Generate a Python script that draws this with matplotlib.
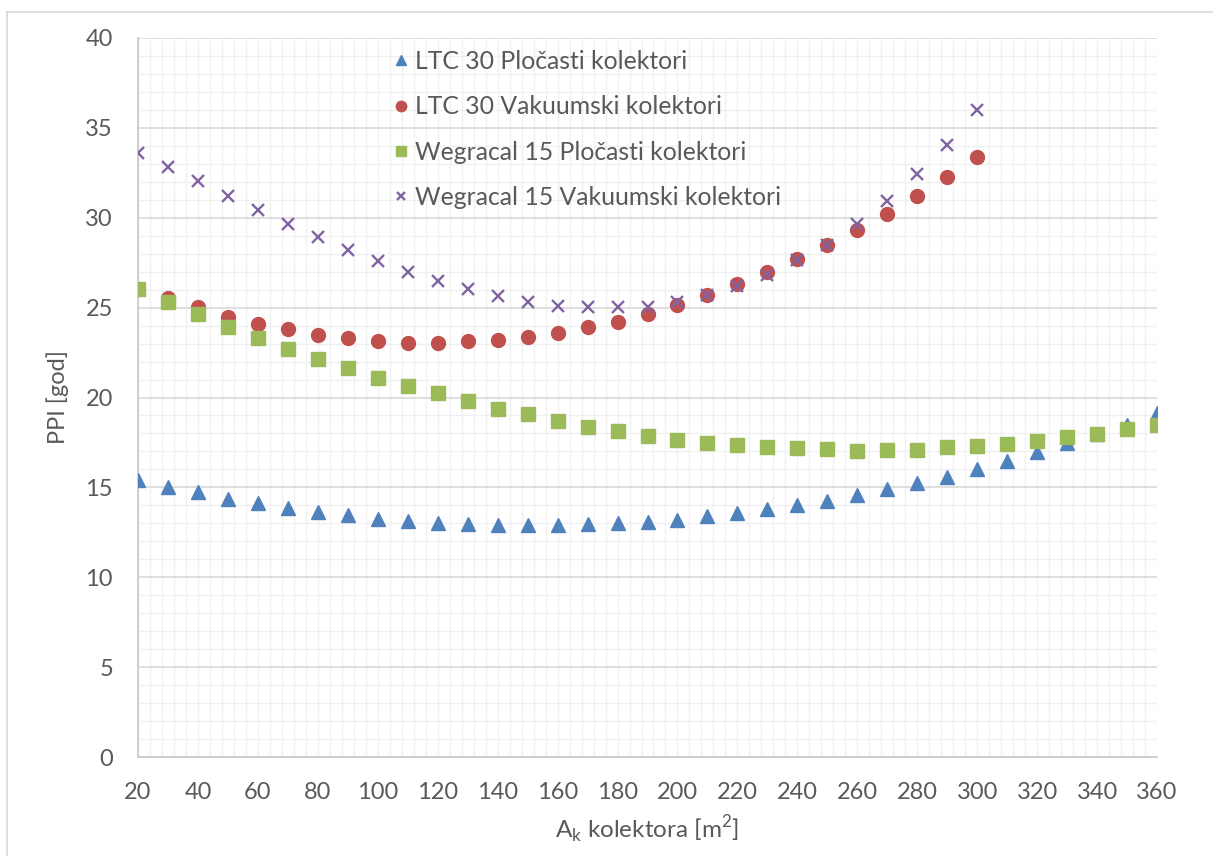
import matplotlib
matplotlib.use("Agg")
import numpy as np
import matplotlib.pyplot as plt
from matplotlib.lines import Line2D
from matplotlib.ticker import MultipleLocator

# ── data ───────────────────────────────────────────────────────
area_long = list(range(20, 361, 10))     # 20 … 360
area_short = list(range(20, 301, 10))    # 20 … 300

ltc_plocasti = [15.41, 15.03, 14.72, 14.37, 14.11, 13.87, 13.61, 13.44, 13.26, 13.13,
                13.03, 12.96, 12.89, 12.89, 12.89, 12.96, 13.00, 13.08, 13.20, 13.40,
                13.59, 13.77, 14.00, 14.26, 14.57, 14.89, 15.26, 15.60, 16.05, 16.46,
                16.98, 17.46, 17.95, 18.45, 19.13]
ltc_vakuumski = [26.05, 25.51, 25.01, 24.49, 24.10, 23.79, 23.47, 23.29, 23.17, 23.04,
                 23.04, 23.12, 23.18, 23.35, 23.60, 23.90, 24.21, 24.64, 25.16, 25.70,
                 26.34, 26.99, 27.73, 28.46, 29.31, 30.23, 31.21, 32.27, 33.39]
weg_plocasti = [26.01, 25.29, 24.62, 23.93, 23.30, 22.69, 22.14, 21.65, 21.10, 20.65,
                20.23, 19.80, 19.35, 19.06, 18.69, 18.37, 18.13, 17.88, 17.66, 17.48,
                17.33, 17.22, 17.17, 17.11, 17.04, 17.09, 17.09, 17.22, 17.30, 17.43,
                17.60, 17.78, 17.96, 18.22, 18.45]
weg_vakuumski = [33.63, 32.83, 32.04, 31.22, 30.42, 29.68, 28.94, 28.20, 27.60, 26.97,
                 26.49, 26.01, 25.62, 25.32, 25.08, 25.01, 25.01, 25.04, 25.32, 25.73,
                 26.21, 26.81, 27.64, 28.51, 29.68, 30.92, 32.42, 34.07, 35.98]

labels = ["LTC 30 Pločasti kolektori", "LTC 30 Vakuumski kolektori",
          "Wegracal 15 Pločasti kolektori", "Wegracal 15 Vakuumski kolektori"]

# ── style ──────────────────────────────────────────────────────
plt.rcParams["font.family"] = ["Lato", "DejaVu Sans"]
TXT = "#595959"
BLUE, RED, GREEN, PURPLE = "#4F81BD", "#C0504D", "#9BBB59", "#8064A2"
FS, LEG_FS = 17, 17.8

W, H = 1213, 856
fig = plt.figure(figsize=(W / 100, H / 100), dpi=100)
ax = fig.add_axes([138 / W, (H - 757) / H, (1157 - 138) / W, (757 - 38) / H])

# chart-area border (left and top visible)
fig.add_artist(Line2D([7 / W, 7 / W], [0, (H - 12) / H], color="#d9d9d9", lw=1.2))
fig.add_artist(Line2D([7 / W, 1], [(H - 12) / H, (H - 12) / H], color="#d9d9d9", lw=1.2))

ax.plot(area_long, ltc_plocasti, ls="none", marker="^", ms=10.5, color=BLUE,
        mec=BLUE, label=labels[0], zorder=3)
ax.plot(area_short, ltc_vakuumski, ls="none", marker="o", ms=10, color=RED,
        mec=RED, label=labels[1], zorder=3)
ax.plot(area_long, weg_plocasti, ls="none", marker="s", ms=9.5, color=GREEN,
        mec=GREEN, label=labels[2], zorder=3)
ax.plot(area_short, weg_vakuumski, ls="none", marker="x", ms=8.5, mew=1.7,
        color=PURPLE, label=labels[3], zorder=4)

ax.set_xlim(20, 360)
ax.set_ylim(0, 40)
ax.xaxis.set_major_locator(MultipleLocator(20))
ax.xaxis.set_minor_locator(MultipleLocator(4))
ax.yaxis.set_major_locator(MultipleLocator(5))
ax.yaxis.set_minor_locator(MultipleLocator(1))

ax.grid(which="minor", color="#f0f0f0", lw=1.0)
ax.grid(which="major", axis="x", color="#f0f0f0", lw=1.0)
ax.grid(which="major", axis="y", color="#d9d9d9", lw=1.2)
ax.set_axisbelow(True)

for s in ("top", "right"):
    ax.spines[s].set_visible(False)
for s in ("left", "bottom"):
    ax.spines[s].set_color("#c8c8c8")
    ax.spines[s].set_linewidth(1.2)

ax.tick_params(which="both", length=0, labelsize=FS, colors=TXT)
ax.tick_params(axis="x", pad=18)
ax.tick_params(axis="y", pad=18)

ax.set_xlabel(r"A$_\mathregular{k}$ kolektora [m$^\mathregular{2}$]",
              fontsize=17.5, color=TXT, labelpad=8)
ax.set_ylabel("PPI [god]", fontsize=FS, color=TXT, labelpad=12)

leg = ax.legend(loc="upper left", bbox_to_anchor=(0.2375, 0.997), frameon=False,
                fontsize=LEG_FS, labelspacing=0.9, handletextpad=0.13,
                handlelength=0.9, markerscale=0.75, borderaxespad=0.0)
for t in leg.get_texts():
    t.set_color(TXT)

fig.savefig("out.png", dpi=100)
